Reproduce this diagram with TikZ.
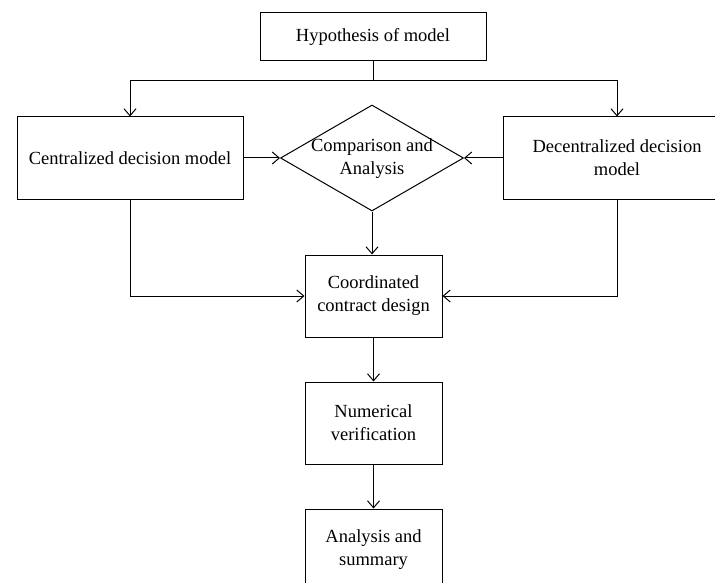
\documentclass[tikz,border=0pt]{standalone}
\usepackage{fontspec}
\setmainfont{Liberation Serif}
\usetikzlibrary{shapes.geometric,arrows.meta}
\begin{document}
\begin{tikzpicture}[x=1pt,y=-1pt,
  every node/.style={font=\fontsize{18.5}{23}\selectfont},
  box/.style={draw,line width=1pt,rectangle,inner sep=0pt,align=center},
  conn/.style={line width=1pt,-{Straight Barb[length=7pt,width=12pt,line width=1pt]}},
  plain/.style={line width=1pt}]
\useasboundingbox (0,0) rectangle (715,583);
\clip (0,0) rectangle (715,583);
\fill[white] (0,0) rectangle (715,583);
\node[box,minimum width=226pt,minimum height=48pt] (hyp) at (373,37) {Hypothesis of model};
\node[box,minimum width=226pt,minimum height=82pt] (cen) at (130,158) {Centralized decision model};
\node[box,minimum width=228pt,minimum height=82pt] (dec) at (617,158) {Decentralized decision\\model};
\node[draw,line width=1pt,diamond,inner sep=0pt,minimum width=183pt,minimum height=106pt] (dia) at (372,158) {};
\node[align=center,inner sep=0pt] (diatext) at (372,159) {Comparison and\\Analysis};
\node[box,minimum width=137pt,minimum height=82pt] (coo) at (373.5,296) {Coordinated\\contract design};
\node[box,minimum width=137pt,minimum height=82pt] (num) at (373.5,423) {Numerical\\verification};
\node[box,minimum width=137pt,minimum height=82pt] (ana) at (373.5,550) {Analysis and\\summary};
\coordinate (split) at (373,81);
\draw[plain] (hyp.south) -- (split);
\draw[conn] (split) -| (cen.north);
\draw[conn] (split) -| (dec.north);
\draw[conn] (cen.east) -- (dia.west);
\draw[conn] (dec.west) -- (dia.east);
\draw[conn] (dia.south) -- (dia.south |- coo.north);
\draw[conn] (cen.south) |- (coo.west);
\draw[conn] (dec.south) |- (coo.east);
\draw[conn] (coo.south) -- (num.north);
\draw[conn] (num.south) -- (ana.north);
\end{tikzpicture}
\end{document}
